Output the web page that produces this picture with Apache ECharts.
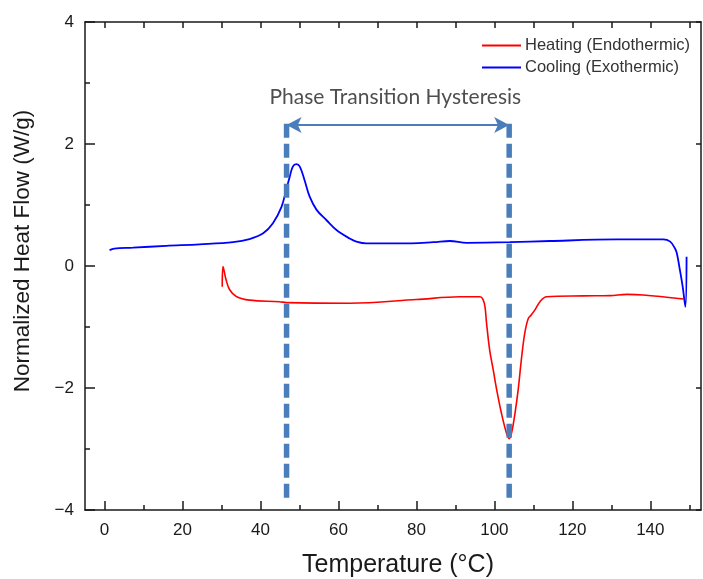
<!DOCTYPE html>
<html>
<head>
<meta charset="utf-8">
<script src="https://cdn.jsdelivr.net/npm/echarts@6/dist/echarts.min.js"></script>
<style>
  html, body { margin: 0; padding: 0; background: #fff; }
  #chart { width: 703px; height: 579px; }
</style>
</head>
<body>
<div id="chart"></div>
<script>
// heating curve [temperature, heat flow]
const heating = [
  [30.2, -0.34], [30.4, -0.01], [31.2, -0.23], [32.1, -0.39], [33.8, -0.50], [37.2, -0.56],
  [44.9, -0.585], [46.6, -0.60], [62.9, -0.61], [80, -0.55], [91.1, -0.505], [96.3, -0.505],
  [97.1, -0.55], [97.6, -0.67], [98, -0.94], [98.8, -1.38], [99.7, -1.70], [100.6, -2.03],
  [101.8, -2.41], [103.1, -2.74], [103.8, -2.83], [104.4, -2.74], [105.3, -2.41], [106.1, -2.03],
  [107, -1.49], [107.8, -1.10], [108.7, -0.86], [109.5, -0.80], [110.4, -0.72], [111.7, -0.585],
  [113.4, -0.505], [122.8, -0.49], [129.7, -0.485], [134, -0.465], [138.2, -0.475], [148.5, -0.54]
]

// cooling curve [temperature, heat flow]
const cooling = [
  [1.3, 0.26], [2.5, 0.285], [7.3, 0.30], [15.8, 0.33], [24.4, 0.355], [33, 0.39], [37.2, 0.44],
  [40.7, 0.535], [43.2, 0.70], [45.4, 0.97], [46.6, 1.245], [47.5, 1.46], [48.3, 1.63], [49.2, 1.67],
  [50.1, 1.63], [51.3, 1.41], [52.6, 1.14], [54.4, 0.92], [56.9, 0.754], [59.5, 0.59], [62.9, 0.45],
  [64.6, 0.40], [67.2, 0.37], [75.7, 0.37], [84.3, 0.39], [88.6, 0.41], [92.9, 0.38], [104, 0.39],
  [114.3, 0.41], [131.4, 0.435], [143.3, 0.437], [145.1, 0.40], [146.3, 0.29], [146.8, 0.21],
  [147.6, -0.07], [148.3, -0.34], [149.0, -0.67], [149.3, 0.15]
]

// hysteresis marker: two temperatures, arrow level, dashed line span
const hysteresisX = [46.7, 103.8]
const arrowY = 2.31
const dashSpan = [2.33, -3.84]
const hysteresisLabel = [74.6, 2.77]

const xMajorTicks = [0, 20, 40, 60, 80, 100, 120, 140]
const xMinorTicks = [10, 30, 50, 70, 90, 110, 130, 150]
const xTopTicks = [0, 10, 20, 30, 40, 50, 60, 70, 80, 90, 100, 110, 120, 130, 140, 150]

const axisColor = '#1a1a1a'
const font = 'Liberation Sans, Arial, sans-serif'
const markColor = '#4a7ebb'

const chart = echarts.init(document.getElementById('chart'))

const baseX = {
  type: 'value',
  min: -5,
  max: 153,
  splitLine: { show: false },
  axisLine: { show: true, onZero: false, lineStyle: { color: axisColor, width: 1.5 } }
}

const option = {
  animation: false,
  grid: { left: 85, right: 2, top: 22, bottom: 69, outerBoundsMode: 'none' },
  legend: {
    data: ['Heating (Endothermic)', 'Cooling (Exothermic)'],
    orient: 'vertical',
    left: 482,
    top: 37,
    icon: 'rect',
    itemWidth: 39,
    itemHeight: 2,
    itemGap: 5,
    padding: 0,
    textStyle: { fontFamily: font, fontSize: 16.5, color: '#333', lineHeight: 16, padding: [0, 0, 0, -1] }
  },
  xAxis: [
    {
      ...baseX,
      position: 'bottom',
      name: 'Temperature (°C)',
      nameLocation: 'middle',
      nameGap: 43,
      nameTextStyle: { fontFamily: font, fontSize: 25, color: axisColor, padding: [0, 0, 0, 10] },
      axisTick: { show: true, inside: true, length: 9, customValues: xMajorTicks, lineStyle: { color: axisColor, width: 1.5 } },
      axisLabel: { show: true, customValues: xMajorTicks, margin: 12, fontFamily: font, fontSize: 17, color: axisColor }
    },
    {
      ...baseX,
      position: 'bottom',
      axisLine: { show: false, onZero: false },
      axisTick: { show: true, inside: true, length: 5, customValues: xMinorTicks, lineStyle: { color: axisColor, width: 1.5 } },
      axisLabel: { show: false }
    },
    {
      ...baseX,
      position: 'top',
      axisTick: { show: true, inside: true, length: 6, customValues: xTopTicks, lineStyle: { color: axisColor, width: 1.5 } },
      axisLabel: { show: false }
    }
  ],
  yAxis: [
    {
      type: 'value',
      min: -4,
      max: 4,
      interval: 2,
      position: 'left',
      name: 'Normalized Heat Flow (W/g)',
      nameLocation: 'middle',
      nameGap: 51,
      nameTextStyle: { fontFamily: font, fontSize: 22.5, color: axisColor, padding: [0, 0, 0, 30] },
      splitLine: { show: false },
      axisLine: { show: true, onZero: false, lineStyle: { color: axisColor, width: 1.5 } },
      axisTick: { show: true, inside: true, length: 10, lineStyle: { color: axisColor, width: 1.5 } },
      minorTick: { show: true, splitNumber: 2, length: 5, lineStyle: { color: axisColor, width: 1.5 } },
      axisLabel: {
        margin: 11, fontFamily: font, fontSize: 17, color: axisColor,
        formatter: v => String(v).replace('-', '\u2212')
      }
    },
    {
      type: 'value',
      min: -4,
      max: 4,
      interval: 2,
      position: 'right',
      splitLine: { show: false },
      axisLine: { show: true, onZero: false, lineStyle: { color: axisColor, width: 1.5 } },
      axisTick: { show: true, inside: true, length: 5, lineStyle: { color: axisColor, width: 1.5 } },
      axisLabel: { show: false }
    }
  ],
  series: [
    {
      name: 'Heating (Endothermic)',
      type: 'line',
      data: heating,
      symbol: 'none',
      smooth: 0.35,
      color: '#ff0000',
      lineStyle: { width: 1.6, color: '#ff0000' },
      z: 2
    },
    {
      name: 'Cooling (Exothermic)',
      type: 'line',
      data: cooling,
      symbol: 'none',
      smooth: 0.35,
      color: '#0000ff',
      lineStyle: { width: 1.8, color: '#0000ff' },
      z: 3
    },
    {
      name: 'hysteresis-left',
      type: 'line',
      data: [[hysteresisX[0], dashSpan[0]], [hysteresisX[0], dashSpan[1]]],
      symbol: 'none',
      lineStyle: { width: 5.5, color: markColor, type: [14, 6] },
      z: 5,
      markLine: {
        silent: true,
        symbol: ['arrow', 'arrow'],
        symbolSize: [12, 15],
        label: { show: false },
        lineStyle: { color: markColor, width: 2, type: 'solid' },
        data: [[{ coord: [hysteresisX[0], arrowY] }, { coord: [hysteresisX[1], arrowY] }]]
      }
    },
    {
      name: 'hysteresis-right',
      type: 'line',
      data: [[hysteresisX[1], dashSpan[0]], [hysteresisX[1], dashSpan[1]]],
      symbol: 'none',
      lineStyle: { width: 5.5, color: markColor, type: [14, 6] },
      z: 5
    },
    {
      name: 'hysteresis-label',
      type: 'scatter',
      data: [hysteresisLabel],
      symbolSize: 1,
      itemStyle: { color: 'rgba(0,0,0,0)' },
      label: {
        show: true,
        position: 'inside',
        formatter: 'Phase Transition Hysteresis',
        fontFamily: 'Lato, sans-serif',
        fontSize: 21,
        color: '#222'
      },
      z: 6
    }
  ]
}

chart.setOption(option)
</script>
</body>
</html>
